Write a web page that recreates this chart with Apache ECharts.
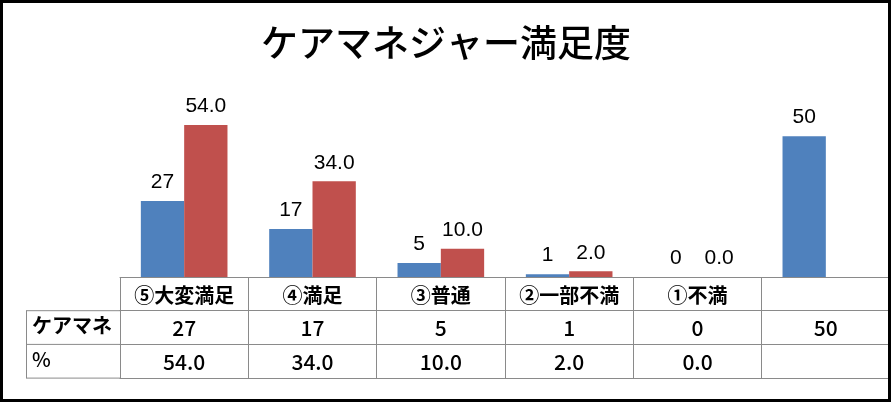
<!DOCTYPE html>
<html><head><meta charset="utf-8">
<script src="https://cdn.jsdelivr.net/npm/echarts@6/dist/echarts.min.js"></script>
<style>html,body{margin:0;padding:0;background:#fff}#c{width:892px;height:403px}</style>
</head><body><div id="c"></div>
<script>
const chartTitle = 'ケアマネジャー満足度';
const categories = ['⑤大変満足', '④満足', '③普通', '②一部不満', '①不満', ''];
const seriesNames = ['ケアマネ', '%'];
const careManagerCounts = [27, 17, 5, 1, 0, 50];
const percentages = [54.0, 34.0, 10.0, 2.0, 0.0, null];
const yMax = 60;

const JP = "'Noto Sans CJK JP', sans-serif";
const LAT = "'Liberation Sans', Arial, sans-serif";
const BLUE = '#4F81BD', RED = '#C0504D', LINE = '#8a8a8a';

const W = 892, H = 403;
const gridLeft = 120, gridRight = 2, gridTop = 108, gridBottom = 126;
const axisY = H - gridBottom;         // 277
const rowH = 33.7;
const tableLeft = 26;

const fmtPct = v => (v === null || v === undefined) ? '' : Number(v).toFixed(1);
const fmtCnt = v => (v === null || v === undefined) ? '' : String(v);

function tableAxis(data, offset, opts) {
  return Object.assign({
    type: 'category',
    gridIndex: 0,
    position: 'bottom',
    offset: offset,
    data: data,
    boundaryGap: true,
    axisLine: { show: true, lineStyle: { color: LINE, width: 1 } },
    axisTick: { show: true, interval: 0, alignWithLabel: false, length: rowH, inside: false, lineStyle: { color: LINE, width: 1 } },
    axisLabel: { show: true, interval: 0, margin: 7, color: '#000', fontFamily: JP, fontSize: 21, fontWeight: 500 },
    splitLine: { show: false }
  }, opts || {});
}

const chart = echarts.init(document.getElementById('c'), null, { renderer: 'canvas' });
chart.setOption({
  animation: false,
  backgroundColor: '#fff',
  title: {
    text: chartTitle, left: 'center', top: 19,
    textStyle: { fontFamily: JP, fontSize: 37, fontWeight: 500, color: '#000' }
  },
  grid: { left: gridLeft, right: gridRight, top: gridTop, bottom: gridBottom, containLabel: false },
  xAxis: [
    tableAxis(categories, 0, { axisLabel: { show: true, interval: 0, margin: 8, color: '#000', fontFamily: JP, fontSize: 20, fontWeight: 'bold' } }),
    tableAxis(careManagerCounts.map(fmtCnt), rowH),
    tableAxis(percentages.map(fmtPct), rowH * 2),
    tableAxis(categories, rowH * 3, { axisTick: { show: false }, axisLabel: { show: false } })
  ],
  yAxis: {
    type: 'value', min: 0, max: yMax, show: false,
    splitLine: { show: false }
  },
  series: [
    {
      name: seriesNames[0], type: 'bar', xAxisIndex: 0, data: careManagerCounts,
      barGap: '0%', barCategoryGap: '32.5%',
      itemStyle: { color: BLUE },
      label: { show: true, position: 'top', distance: 8, color: '#000', fontFamily: LAT, fontSize: 21, formatter: p => fmtCnt(p.value) }
    },
    {
      name: seriesNames[1], type: 'bar', xAxisIndex: 0, data: percentages,
      barGap: '0%', barCategoryGap: '32.5%',
      itemStyle: { color: RED },
      label: { show: true, position: 'top', distance: 8, color: '#000', fontFamily: LAT, fontSize: 21, formatter: p => fmtPct(p.value) }
    }
  ],
  graphic: [
    { type: 'rect', shape: { x: 1.5, y: 1.5, width: 888, height: 399 }, style: { fill: 'none', stroke: '#000', lineWidth: 3 }, silent: true, z: 100 },
    { type: 'line', shape: { x1: tableLeft, y1: axisY + rowH, x2: gridLeft, y2: axisY + rowH }, style: { stroke: LINE, lineWidth: 1 }, silent: true },
    { type: 'line', shape: { x1: tableLeft, y1: axisY + rowH * 2, x2: gridLeft, y2: axisY + rowH * 2 }, style: { stroke: LINE, lineWidth: 1 }, silent: true },
    { type: 'line', shape: { x1: tableLeft, y1: axisY + rowH * 3, x2: gridLeft, y2: axisY + rowH * 3 }, style: { stroke: LINE, lineWidth: 1 }, silent: true },
    { type: 'line', shape: { x1: tableLeft + 0.5, y1: axisY + rowH, x2: tableLeft + 0.5, y2: axisY + rowH * 3 }, style: { stroke: LINE, lineWidth: 1 }, silent: true },
    { type: 'text', left: 32, top: axisY + rowH * 1.5 - 12, style: { text: seriesNames[0], font: "bold 20px 'Noto Sans CJK JP', sans-serif", fill: '#000' }, silent: true },
    { type: 'text', left: 32, top: axisY + rowH * 2.5 - 12, style: { text: seriesNames[1], font: "500 20px 'Noto Sans CJK JP', sans-serif", fill: '#000' }, silent: true }
  ]
});
</script></body></html>
